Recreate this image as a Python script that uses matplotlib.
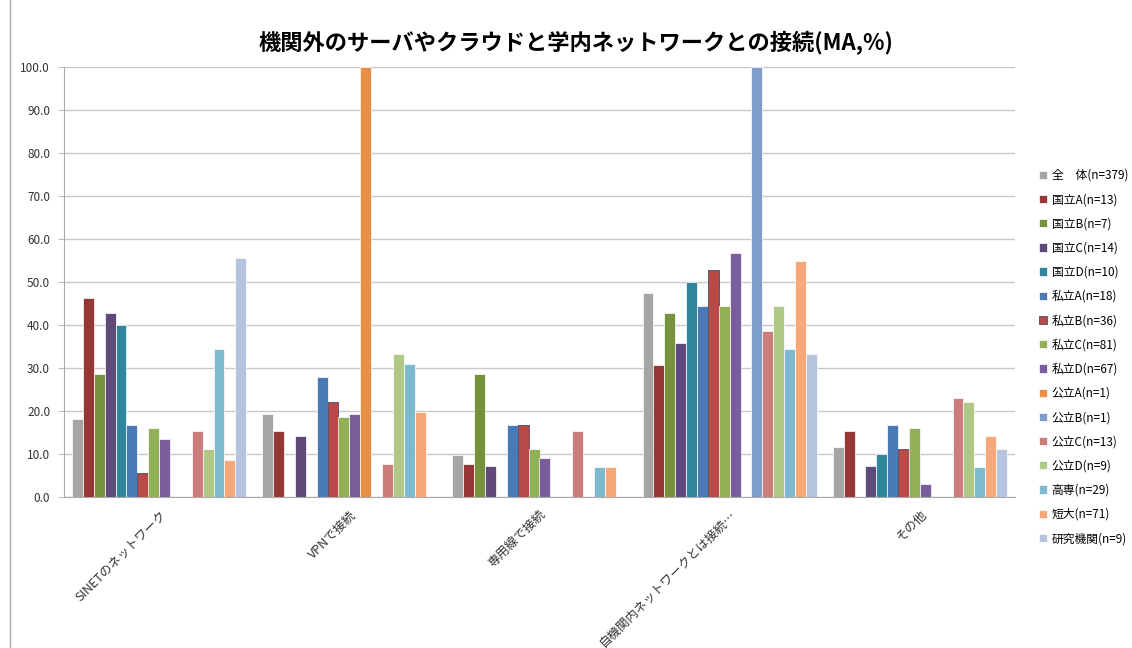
import numpy as np
import matplotlib.pyplot as plt

plt.rcParams['font.family'] = ['Noto Sans CJK JP', 'DejaVu Sans']

categories = ['SINETのネットワーク', 'VPNで接続', '専用線で接続',
              '自機関内ネットワークとは接続…', 'その他']

series = ['全　体(n=379)', '国立A(n=13)', '国立B(n=7)', '国立C(n=14)', '国立D(n=10)',
          '私立A(n=18)', '私立B(n=36)', '私立C(n=81)', '私立D(n=67)', '公立A(n=1)',
          '公立B(n=1)', '公立C(n=13)', '公立D(n=9)', '高専(n=29)', '短大(n=71)',
          '研究機関(n=9)']

# one row per series, one value per category
values = [
    [18.2, 19.3, 9.8, 47.5, 11.6],
    [46.2, 15.4, 7.7, 30.8, 15.4],
    [28.6, 0.0, 28.6, 42.9, 0.0],
    [42.9, 14.3, 7.1, 35.7, 7.1],
    [40.0, 0.0, 0.0, 50.0, 10.0],
    [16.7, 27.8, 16.7, 44.4, 16.7],
    [5.6, 22.2, 16.7, 52.8, 11.1],
    [16.0, 18.5, 11.1, 44.4, 16.0],
    [13.4, 19.4, 9.0, 56.7, 3.0],
    [0.0, 100.0, 0.0, 0.0, 0.0],
    [0.0, 0.0, 0.0, 100.0, 0.0],
    [15.4, 7.7, 15.4, 38.5, 23.1],
    [11.1, 33.3, 0.0, 44.4, 22.2],
    [34.5, 31.0, 6.9, 34.5, 6.9],
    [8.5, 19.7, 7.0, 54.9, 14.1],
    [55.6, 0.0, 0.0, 33.3, 11.1],
]

colors = ['#A5A5A5', '#953735', '#77923C', '#604A7B', '#31859C',
          '#4A7AB5', '#B94A48', '#92B055', '#7A5E9B', '#E98F45',
          '#7F9DC9', '#CC7C7B', '#AFC886', '#7DBAD0', '#F6A878',
          '#B5C3DE']

fig = plt.figure(figsize=(11.32, 6.48), dpi=100)
ax = fig.add_axes([64 / 1132, 1 - 497 / 648, (1015 - 64) / 1132, (497 - 67) / 648])

x = np.arange(len(categories))
w = 0.0573
for j, (name, vals) in enumerate(zip(series, values)):
    edge = '#2B3A5C' if j == 6 else 'white'
    ax.bar(x + (j - 7.5) * w, vals, w, color=colors[j], label=name,
           edgecolor=edge, linewidth=0.5)

ax.set_xlim(-0.5, len(categories) - 0.5)
ax.set_ylim(0, 100)
ax.set_yticks(np.arange(0, 101, 10))
ax.set_yticklabels([f'{v:.1f}' for v in np.arange(0, 101, 10)], fontsize=8.5, color='#333333')
ax.set_xticks(x)
ax.set_xticklabels(categories, rotation=45, ha='right', rotation_mode='anchor',
                   fontsize=9, color='#333333')
ax.tick_params(axis='x', length=0, pad=8)
ax.tick_params(axis='y', length=4, color='#BBBBBB', pad=6)
ax.grid(axis='y', color='#C8C8C8', linewidth=1)
ax.set_axisbelow(True)
for s in ['top', 'right']:
    ax.spines[s].set_visible(False)
for s in ['left', 'bottom']:
    ax.spines[s].set_color('#AAAAAA')

fig.suptitle('機関外のサーバやクラウドと学内ネットワークとの接続(MA,%)',
             x=(262 + 890) / 2 / 1132, y=1 - 31 / 648, fontsize=16, fontweight='bold')

fig.legend(loc='center left', bbox_to_anchor=(1028 / 1132, 1 - 357 / 648),
           frameon=False, fontsize=8.5, handlelength=0.7, handleheight=0.7,
           handletextpad=0.4, labelspacing=0.95)

fig.add_artist(plt.Line2D([10 / 1132, 10 / 1132], [0, 1], color='#AAAAAA', linewidth=1))

fig.savefig('out.png', dpi=100)
